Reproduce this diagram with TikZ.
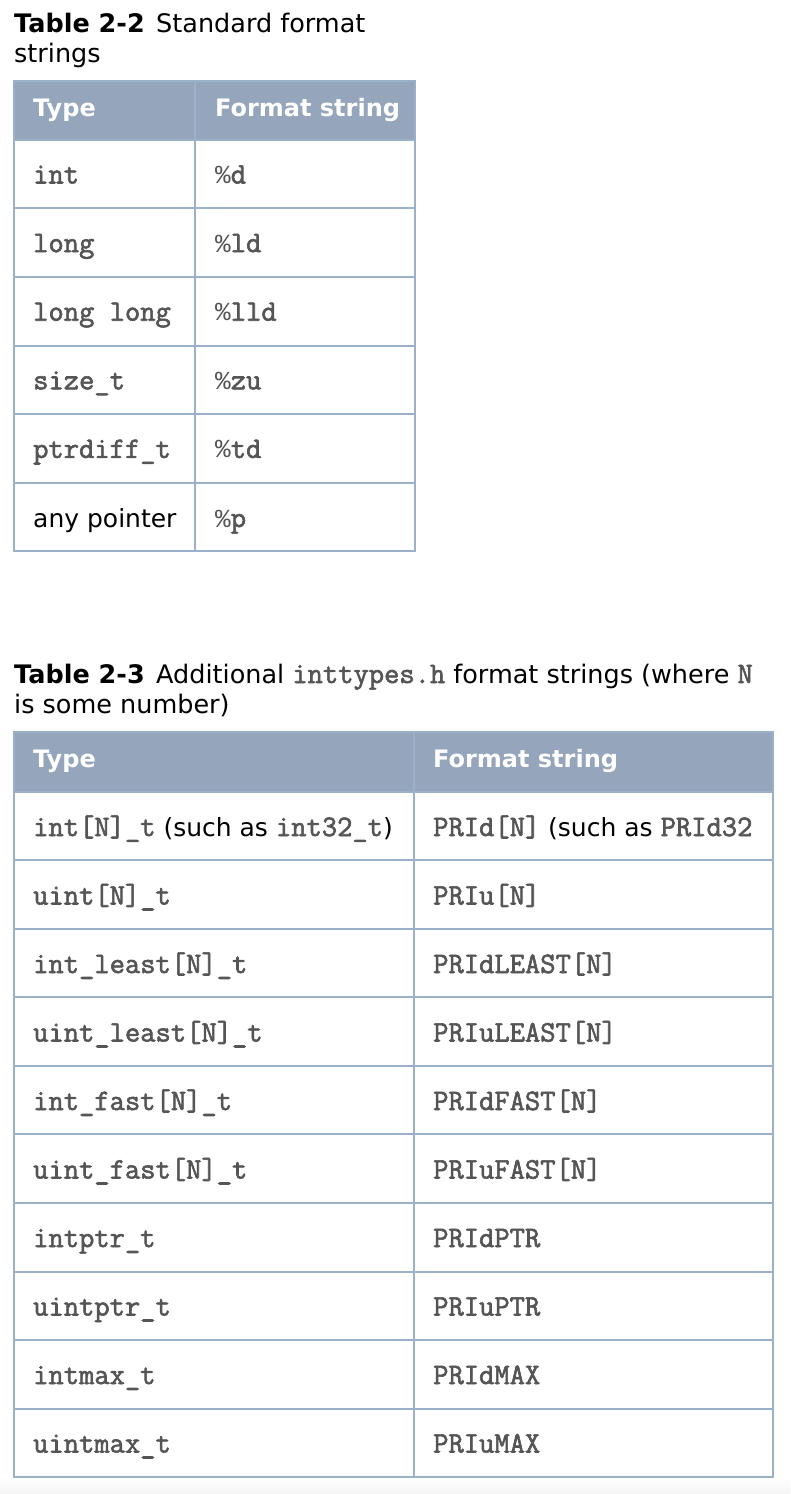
\documentclass[tikz,border=0pt]{standalone}
\usepackage{fontspec}
\setmainfont{DejaVu Sans}
\newfontfamily\codefont[FakeBold=2]{Latin Modern Mono}
\newfontfamily\pctfont{Liberation Mono}
\definecolor{hdr}{HTML}{94A5BC}
\definecolor{gridc}{HTML}{9BB0C9}
\definecolor{codec}{HTML}{555555}
\newcommand\cd[1]{{\fontsize{29.7}{32}\selectfont\codefont\color{codec}#1}}
\newcommand\pct{{\fontsize{26}{30}\selectfont\pctfont\%}}
\tikzset{
  cell/.style={anchor=base west,inner sep=0pt,font=\fontsize{25}{30}\selectfont},
  hd/.style={cell,text=white,font=\fontsize{24}{30}\selectfont\bfseries},
  captxt/.style={anchor=base west,inner sep=0pt,font=\fontsize{25.5}{30}\selectfont},
  gridline/.style={draw=gridc,line width=2pt},
}
\begin{document}
\begin{tikzpicture}[x=1pt,y=-1pt]
\useasboundingbox (0,0) rectangle (790,1494);
\fill[white] (0,0) rectangle (790,1494);
\shade[top color=white,bottom color=black!4] (0,1477) rectangle (790,1494);
% ---------- Table 2-2 ----------
\node[captxt] (c1a) at (14,32) {\textbf{Table 2-2}\hspace{0.45em}Standard format};
\node[captxt] (c1b) at (14,62) {strings};
\fill[hdr] (14,81) rectangle (415,140);
\foreach \y in {140,208,277,346,414,483}{\draw[gridline] (14,\y) -- (415,\y);}
\draw[gridline] (14,81) rectangle (415,551);
\draw[gridline] (195,81) -- (195,551);
\node[hd] (h1a) at (33,116) {Type};
\node[hd] (h1b) at (215,116) {Format string};
\foreach \t/\f [count=\i from 0] in {int/d,long/ld,long long/lld,size\_t/zu,ptrdiff\_t/td}{
  \pgfmathsetmacro\yy{140+68.6*\i+43.5}
  \node[cell] (a\i) at (33,\yy) {\cd{\t}};
  \node[cell] (b\i) at (215,\yy) {\cd{\pct\f}};
}
\node[cell] (a5) at (33,527) {any pointer};
\node[cell] (b5) at (215,527) {\cd{\pct p}};
% ---------- Table 2-3 ----------
\node[captxt] (c2a) at (14,683) {\textbf{Table 2-3}\hspace{0.45em}Additional \cd{inttypes.h} format strings (where \cd{N}};
\node[captxt] (c2b) at (14,713) {is some number)};
\fill[hdr] (14,732) rectangle (773,792);
\foreach \y in {792,860,929,997,1066,1134,1203,1272,1340,1409}{\draw[gridline] (14,\y) -- (773,\y);}
\draw[gridline] (14,732) rectangle (773,1477);
\draw[gridline] (414,732) -- (414,1477);
\node[hd] (h2a) at (33,767) {Type};
\node[hd] (h2b) at (433,767) {Format string};
\node[cell] (d0) at (33,836) {\cd{int[N]\_t} (such as \cd{int32\_t})};
\node[cell] (e0) at (433,836) {\cd{PRId[N]} (such as \cd{PRId32}};
\foreach \t/\f [count=\i from 1] in {uint[N]\_t/PRIu[N],int\_least[N]\_t/PRIdLEAST[N],uint\_least[N]\_t/PRIuLEAST[N],int\_fast[N]\_t/PRIdFAST[N],uint\_fast[N]\_t/PRIuFAST[N],intptr\_t/PRIdPTR,uintptr\_t/PRIuPTR,intmax\_t/PRIdMAX,uintmax\_t/PRIuMAX}{
  \pgfmathsetmacro\yy{792+68.5*\i+44}
  \node[cell] (d\i) at (33,\yy) {\cd{\t}};
  \node[cell] (e\i) at (433,\yy) {\cd{\f}};
}
\end{tikzpicture}
\end{document}
